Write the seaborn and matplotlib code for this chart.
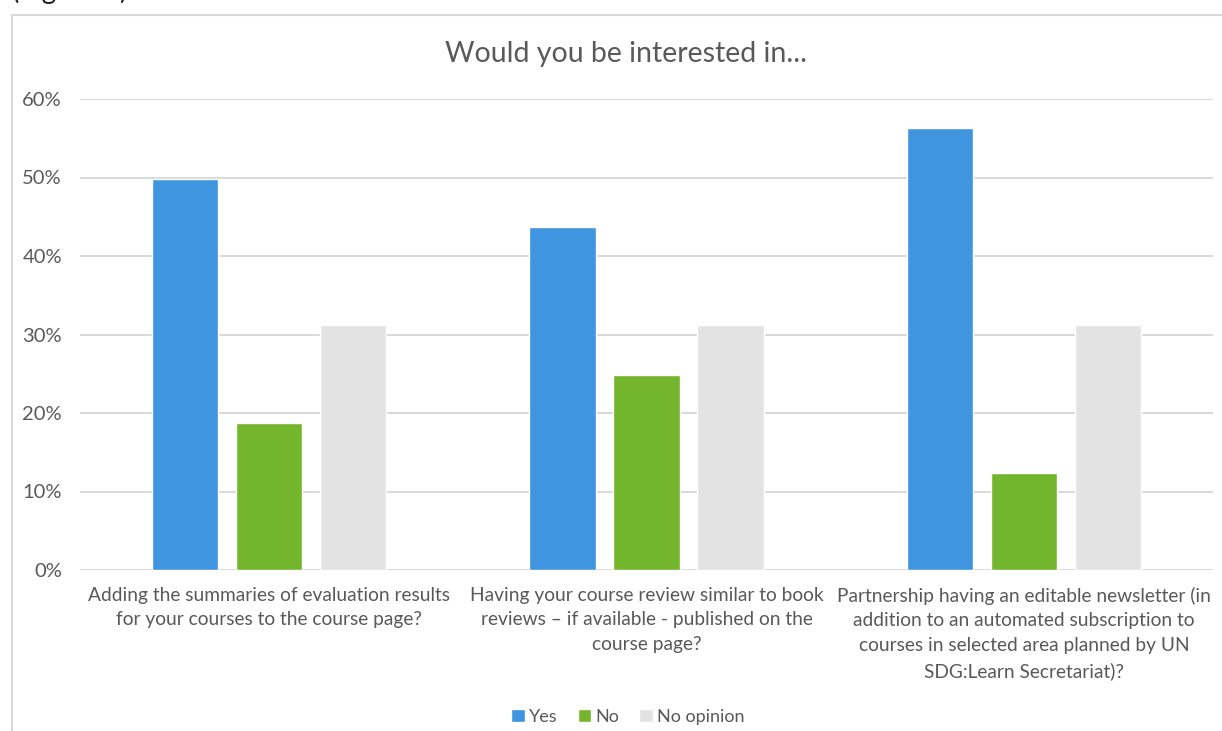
import matplotlib
matplotlib.use("Agg")
import matplotlib.pyplot as plt
from matplotlib.patches import Rectangle
from matplotlib.ticker import PercentFormatter
import seaborn as sns
import pandas as pd

# Survey answers (share of respondents) per proposed feature
categories = [
    "Adding the summaries of evaluation results for your courses to the course page?",
    "Having your course review similar to book reviews – if available - published on the course page?",
    "Partnership having an editable newsletter (in addition to an automated subscription to courses in selected area planned by UN SDG:Learn Secretariat)?",
]
tick_labels = [
    "Adding the summaries of evaluation results\nfor your courses to the course page?",
    "Having your course review similar to book\nreviews – if available - published on the\ncourse page?",
    "Partnership having an editable newsletter (in\naddition to an automated subscription to\ncourses in selected area planned by UN\nSDG:Learn Secretariat)?",
]
answers = ["Yes", "No", "No opinion"]
yes_vals = [0.498, 0.437, 0.563]
no_vals = [0.187, 0.248, 0.124]
no_opinion_vals = [0.312, 0.312, 0.312]

colors = ["#3F95DF", "#73B52D", "#E3E3E3"]
text_gray = "#595959"
grid_gray = "#D9D9D9"

rows = []
for ans, vals in zip(answers, [yes_vals, no_vals, no_opinion_vals]):
    for cat, v in zip(categories, vals):
        rows.append({"question": cat, "answer": ans, "share": v})
df = pd.DataFrame(rows)

sns.set_theme(style="white")
plt.rcParams["font.family"] = ["Lato", "DejaVu Sans"]

fig = plt.figure(figsize=(12.22, 7.31), dpi=100)
ax = fig.add_axes([80 / 1222, 1 - 570 / 731, (1213 - 80) / 1222, (570 - 99) / 731])

sns.barplot(
    data=df, x="question", y="share", hue="answer",
    order=categories, hue_order=answers, palette=colors,
    width=0.667, gap=0.21, saturation=1, ax=ax, legend=True,
)

ax.set_ylim(0, 0.6)
ax.set_yticks([0, 0.1, 0.2, 0.3, 0.4, 0.5, 0.6])
ax.yaxis.set_major_formatter(PercentFormatter(1.0, decimals=0))
ax.set_xticks(range(len(categories)))
ax.set_xticklabels(tick_labels, linespacing=1.55, fontsize=13.8)
ax.set_xlabel("")
ax.set_ylabel("")
ax.tick_params(axis="both", length=0, colors=text_gray)
ax.tick_params(axis="y", pad=13, labelsize=14.5)
ax.tick_params(axis="x", pad=12)
ax.grid(axis="y", color=grid_gray, linewidth=1.4)
ax.set_axisbelow(True)
for s in ax.spines.values():
    s.set_visible(False)

# Legend below the plot, square swatches
leg = ax.legend(
    loc="center", bbox_to_anchor=(628 / 1222, 1 - 717 / 731),
    bbox_transform=fig.transFigure, ncol=3, frameon=False,
    fontsize=13, handlelength=0.75, handleheight=0.75,
    handletextpad=0.25, columnspacing=1.1, labelcolor=text_gray,
)

fig.text(626 / 1222, 1 - 54 / 731, "Would you be interested in...",
         ha="center", va="center", fontsize=20.5, color=text_gray)

# Caption line above the chart frame (cut by the page edge)
fig.text(12 / 1222, 1 + 1 / 731, "(Figure 5)", ha="left", va="baseline",
         fontsize=20, color="#222222")

# Chart frame
fig.patches.append(Rectangle((12 / 1222, -0.05), 1.1, 1 - 15 / 731 + 0.05,
                             transform=fig.transFigure, fill=False,
                             edgecolor=grid_gray, linewidth=1.5))

fig.savefig("out.png", dpi=100)
